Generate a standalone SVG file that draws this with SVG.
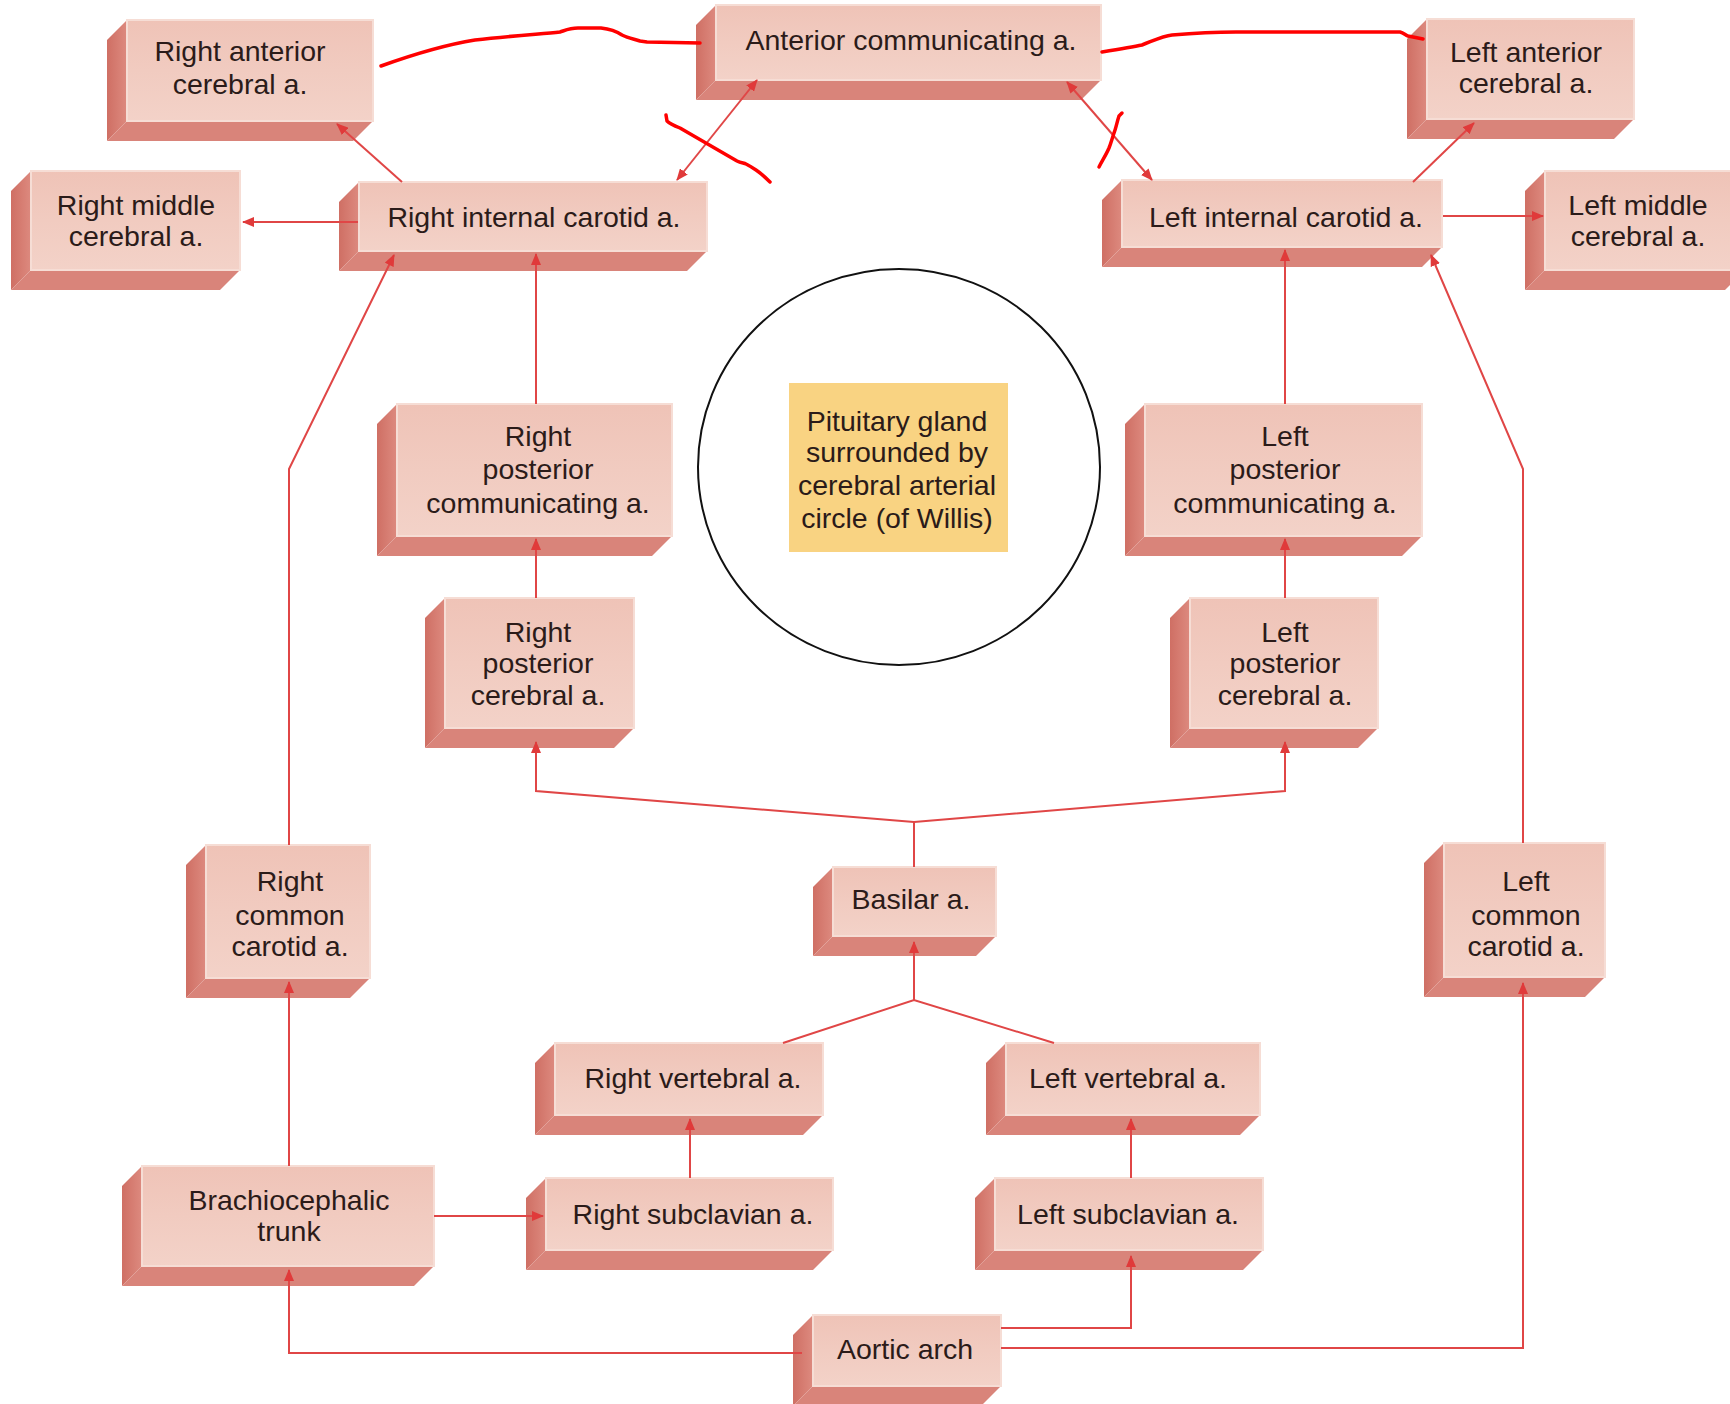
<svg xmlns="http://www.w3.org/2000/svg" width="1730" height="1404" viewBox="0 0 1730 1404">
<defs>
<linearGradient id="gFace" x1="0" y1="0" x2="0" y2="1">
<stop offset="0" stop-color="#efc3b7"/>
<stop offset="0.5" stop-color="#f1cbc0"/>
<stop offset="1" stop-color="#f3d2c8"/>
</linearGradient>
<linearGradient id="gSide" x1="0" y1="0" x2="1" y2="0">
<stop offset="0" stop-color="#cf6f64"/>
<stop offset="1" stop-color="#dd8a7f"/>
</linearGradient>
<marker id="ah" viewBox="0 0 12 10" refX="11" refY="5" markerWidth="12" markerHeight="10" markerUnits="userSpaceOnUse" orient="auto-start-reverse">
<path d="M0,0 L12,5 L0,10 z" fill="#e03a3a"/>
</marker>
</defs>
<style>
.side{fill:url(#gSide)}
.bot{fill:#d9847a}
.face{fill:url(#gFace);stroke:#f6ddd5;stroke-width:2}
.t{font-family:"Liberation Sans",Arial,Helvetica,sans-serif;font-size:28.5px;fill:#2b1b19;text-anchor:middle}
.c{fill:none;stroke:#e04646;stroke-width:2}
.a{marker-end:url(#ah)}
.b{marker-start:url(#ah);marker-end:url(#ah)}
.ann{fill:none;stroke:#ff0000;stroke-width:3.5;stroke-linecap:round;stroke-linejoin:round}
</style>
<rect width="1730" height="1404" fill="#ffffff"/>

<g id="circle-of-willis">
<ellipse cx="899" cy="467" rx="201" ry="198" fill="none" stroke="#111" stroke-width="2"/>
</g>

<g id="n-pituitary">
<rect x="789" y="383" width="219" height="169" fill="#f9d382"/>
<text class="t"><tspan x="897" y="431">Pituitary gland</tspan><tspan x="897" y="462">surrounded by</tspan><tspan x="897" y="495">cerebral arterial</tspan><tspan x="897" y="528">circle (of Willis)</tspan></text>
</g>

<g id="n-right-anterior-cerebral">
<polygon class="side" points="127,20 107,40 107,141 127,121"/>
<polygon class="bot" points="127,121 107,141 353,141 373,121"/>
<rect class="face" x="127" y="20" width="246" height="101"/>
<text class="t"><tspan x="240" y="61">Right anterior</tspan><tspan x="240" y="94">cerebral a.</tspan></text>
</g>

<g id="n-anterior-communicating">
<polygon class="side" points="716,5 696,25 696,100 716,80"/>
<polygon class="bot" points="716,80 696,100 1081,100 1101,80"/>
<rect class="face" x="716" y="5" width="385" height="75"/>
<text class="t" x="911" y="50">Anterior communicating a.</text>
</g>

<g id="n-left-anterior-cerebral">
<polygon class="side" points="1427,19 1407,39 1407,139 1427,119"/>
<polygon class="bot" points="1427,119 1407,139 1614,139 1634,119"/>
<rect class="face" x="1427" y="19" width="207" height="100"/>
<text class="t"><tspan x="1526" y="62">Left anterior</tspan><tspan x="1526" y="93">cerebral a.</tspan></text>
</g>

<g id="n-right-middle-cerebral">
<polygon class="side" points="31,171 11,191 11,290 31,270"/>
<polygon class="bot" points="31,270 11,290 220,290 240,270"/>
<rect class="face" x="31" y="171" width="209" height="99"/>
<text class="t"><tspan x="136" y="215">Right middle</tspan><tspan x="136" y="246">cerebral a.</tspan></text>
</g>

<g id="n-right-internal-carotid">
<polygon class="side" points="359,182 339,202 339,271 359,251"/>
<polygon class="bot" points="359,251 339,271 687,271 707,251"/>
<rect class="face" x="359" y="182" width="348" height="69"/>
<text class="t" x="534" y="227">Right internal carotid a.</text>
</g>

<g id="n-left-internal-carotid">
<polygon class="side" points="1122,180 1102,200 1102,267 1122,247"/>
<polygon class="bot" points="1122,247 1102,267 1422,267 1442,247"/>
<rect class="face" x="1122" y="180" width="320" height="67"/>
<text class="t" x="1286" y="227">Left internal carotid a.</text>
</g>

<g id="n-left-middle-cerebral">
<polygon class="side" points="1545,171 1525,191 1525,290 1545,270"/>
<polygon class="bot" points="1545,270 1525,290 1725,290 1745,270"/>
<rect class="face" x="1545" y="171" width="200" height="99"/>
<text class="t"><tspan x="1638" y="215">Left middle</tspan><tspan x="1638" y="246">cerebral a.</tspan></text>
</g>

<g id="n-right-posterior-communicating">
<polygon class="side" points="397,404 377,424 377,556 397,536"/>
<polygon class="bot" points="397,536 377,556 652,556 672,536"/>
<rect class="face" x="397" y="404" width="275" height="132"/>
<text class="t"><tspan x="538" y="446">Right</tspan><tspan x="538" y="479">posterior</tspan><tspan x="538" y="513">communicating a.</tspan></text>
</g>

<g id="n-left-posterior-communicating">
<polygon class="side" points="1145,404 1125,424 1125,556 1145,536"/>
<polygon class="bot" points="1145,536 1125,556 1402,556 1422,536"/>
<rect class="face" x="1145" y="404" width="277" height="132"/>
<text class="t"><tspan x="1285" y="446">Left</tspan><tspan x="1285" y="479">posterior</tspan><tspan x="1285" y="513">communicating a.</tspan></text>
</g>

<g id="n-right-posterior-cerebral">
<polygon class="side" points="445,598 425,618 425,748 445,728"/>
<polygon class="bot" points="445,728 425,748 614,748 634,728"/>
<rect class="face" x="445" y="598" width="189" height="130"/>
<text class="t"><tspan x="538" y="642">Right</tspan><tspan x="538" y="673">posterior</tspan><tspan x="538" y="705">cerebral a.</tspan></text>
</g>

<g id="n-left-posterior-cerebral">
<polygon class="side" points="1190,598 1170,618 1170,748 1190,728"/>
<polygon class="bot" points="1190,728 1170,748 1358,748 1378,728"/>
<rect class="face" x="1190" y="598" width="188" height="130"/>
<text class="t"><tspan x="1285" y="642">Left</tspan><tspan x="1285" y="673">posterior</tspan><tspan x="1285" y="705">cerebral a.</tspan></text>
</g>

<g id="n-right-common-carotid">
<polygon class="side" points="206,845 186,865 186,998 206,978"/>
<polygon class="bot" points="206,978 186,998 350,998 370,978"/>
<rect class="face" x="206" y="845" width="164" height="133"/>
<text class="t"><tspan x="290" y="891">Right</tspan><tspan x="290" y="925">common</tspan><tspan x="290" y="956">carotid a.</tspan></text>
</g>

<g id="n-basilar">
<polygon class="side" points="833,867 813,887 813,956 833,936"/>
<polygon class="bot" points="833,936 813,956 976,956 996,936"/>
<rect class="face" x="833" y="867" width="163" height="69"/>
<text class="t" x="911" y="909">Basilar a.</text>
</g>

<g id="n-left-common-carotid">
<polygon class="side" points="1444,843 1424,863 1424,997 1444,977"/>
<polygon class="bot" points="1444,977 1424,997 1585,997 1605,977"/>
<rect class="face" x="1444" y="843" width="161" height="134"/>
<text class="t"><tspan x="1526" y="891">Left</tspan><tspan x="1526" y="925">common</tspan><tspan x="1526" y="956">carotid a.</tspan></text>
</g>

<g id="n-right-vertebral">
<polygon class="side" points="555,1043 535,1063 535,1135 555,1115"/>
<polygon class="bot" points="555,1115 535,1135 803,1135 823,1115"/>
<rect class="face" x="555" y="1043" width="268" height="72"/>
<text class="t" x="693" y="1088">Right vertebral a.</text>
</g>

<g id="n-left-vertebral">
<polygon class="side" points="1006,1043 986,1063 986,1135 1006,1115"/>
<polygon class="bot" points="1006,1115 986,1135 1240,1135 1260,1115"/>
<rect class="face" x="1006" y="1043" width="254" height="72"/>
<text class="t" x="1128" y="1088">Left vertebral a.</text>
</g>

<g id="n-brachiocephalic-trunk">
<polygon class="side" points="142,1166 122,1186 122,1286 142,1266"/>
<polygon class="bot" points="142,1266 122,1286 414,1286 434,1266"/>
<rect class="face" x="142" y="1166" width="292" height="100"/>
<text class="t"><tspan x="289" y="1210">Brachiocephalic</tspan><tspan x="289" y="1241">trunk</tspan></text>
</g>

<g id="n-right-subclavian">
<polygon class="side" points="546,1178 526,1198 526,1270 546,1250"/>
<polygon class="bot" points="546,1250 526,1270 813,1270 833,1250"/>
<rect class="face" x="546" y="1178" width="287" height="72"/>
<text class="t" x="693" y="1224">Right subclavian a.</text>
</g>

<g id="n-left-subclavian">
<polygon class="side" points="995,1178 975,1198 975,1270 995,1250"/>
<polygon class="bot" points="995,1250 975,1270 1243,1270 1263,1250"/>
<rect class="face" x="995" y="1178" width="268" height="72"/>
<text class="t" x="1128" y="1224">Left subclavian a.</text>
</g>

<g id="n-aortic-arch">
<polygon class="side" points="813,1315 793,1335 793,1406 813,1386"/>
<polygon class="bot" points="813,1386 793,1406 981,1406 1001,1386"/>
<rect class="face" x="813" y="1315" width="188" height="71"/>
<text class="t" x="905" y="1359">Aortic arch</text>
</g>

<g id="connectors">
<path class="c a" d="M402,182 L337,124"/>
<path class="c a" d="M358,222 L243,222"/>
<path class="c b" d="M757,80 L677,180"/>
<path class="c b" d="M1067,82 L1152,180"/>
<path class="c a" d="M1413,182 L1474,123"/>
<path class="c a" d="M1443,216 L1543,216"/>
<path class="c a" d="M536,404 L536,254"/>
<path class="c a" d="M536,598 L536,539"/>
<path class="c a" d="M1285,404 L1285,250"/>
<path class="c a" d="M1285,598 L1285,539"/>
<path class="c" d="M914,867 L914,822"/>
<path class="c a" d="M914,822 L536,791 L536,742"/>
<path class="c a" d="M914,822 L1285,791 L1285,742"/>
<path class="c" d="M783,1043 L914,1000 L1054,1043"/>
<path class="c a" d="M914,1000 L914,942"/>
<path class="c a" d="M690,1178 L690,1119"/>
<path class="c a" d="M1131,1178 L1131,1119"/>
<path class="c a" d="M434,1216 L543,1216"/>
<path class="c a" d="M289,1166 L289,982"/>
<path class="c a" d="M289,845 L289,469 L394,255"/>
<path class="c a" d="M802,1353 L289,1353 L289,1270"/>
<path class="c a" d="M1001,1328 L1131,1328 L1131,1256"/>
<path class="c a" d="M1001,1348 L1523,1348 L1523,983"/>
<path class="c a" d="M1523,843 L1523,469 L1431,255"/>
</g>

<g id="annotations">
<path class="ann" d="M381,66 C420,52 450,44 475,40 C510,36 540,34 560,32 C566,30 570,28 578,28 L601,28 C610,29 616,31 622,35 C628,38 634,39 640,41 L647,42 L700,43"/>
<path class="ann" d="M1102,52 C1120,49 1132,47 1142,45 C1155,40 1163,36 1172,35 C1195,33 1215,32 1236,32 L1400,32 C1404,33 1405,35 1408,36 L1423,39"/>
<path class="ann" d="M666,115 L667,121 C670,124 675,126 680,128 L737,161 C741,163 744,163 746,164 C750,166 753,168 756,170 C762,174 766,178 770,182"/>
<path class="ann" d="M1122,113 L1119,116 C1117,122 1116,128 1114,133 C1112,139 1111,143 1109,148 C1106,155 1102,161 1099,167"/>
</g>
</svg>
